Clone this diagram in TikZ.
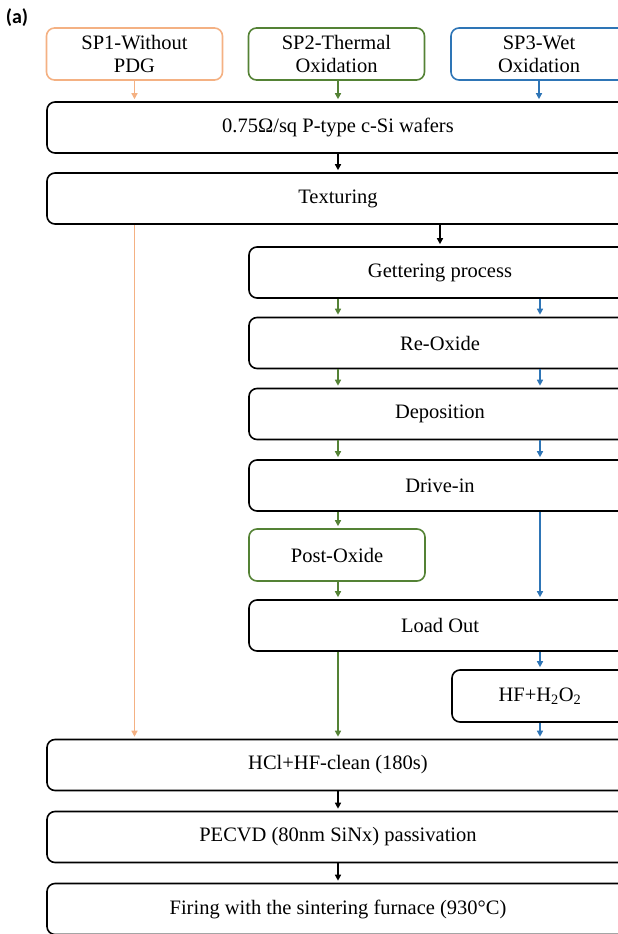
\documentclass[tikz,border=0pt]{standalone}
\usepackage{fontspec}
\setmainfont{Liberation Serif}
\newfontfamily\panelfont{Carlito}
\usetikzlibrary{arrows.meta, positioning}
\definecolor{sporange}{HTML}{F4B183}
\definecolor{spgreen}{HTML}{548235}
\definecolor{spblue}{HTML}{2E75B6}
\tikzset{stepbox/.style={draw, line width=1.6pt, rounded corners=8pt, align=center, inner sep=0pt, font=\fontsize{20.5}{23}\selectfont},
  widebox/.style={stepbox, minimum width=582pt, minimum height=51pt},
  halfbox/.style={stepbox, minimum width=382pt, minimum height=51pt},
  smallbox/.style={stepbox, minimum width=176pt, minimum height=52pt},
  flow/.style={-{Triangle[length=6pt, width=6pt]}, line width=1.4pt, shorten >=2pt}}

\begin{document}
\begin{tikzpicture}[x=1pt, y=-1pt]
  \path[use as bounding box, clip] (0,0) rectangle (618,934);
  \node[font=\panelfont\bfseries\fontsize{20}{24}\selectfont] (panel) at (17,18) {(a)};
  % starting points
  \node[smallbox, sporange] (sp1) at (134.5,54) {\textcolor{black}{SP1-Without}\\\textcolor{black}{PDG}};
  \node[smallbox, spgreen] (sp2) at (336.5,54) {\textcolor{black}{SP2-Thermal}\\\textcolor{black}{Oxidation}};
  \node[smallbox, spblue] (sp3) at (539,54) {\textcolor{black}{SP3-Wet}\\\textcolor{black}{Oxidation}};
  % common steps
  \node[widebox] (wafers) at (338,127.5) {0.75Ω/sq P-type c-Si wafers};
  \node[widebox] (texturing) at (338,198.5) {Texturing};
  % gettering branch
  \node[halfbox] (gettering) at (440,272.5) {Gettering process};
  \node[halfbox] (reoxide) at (440,343) {Re-Oxide};
  \node[halfbox] (deposition) at (440,414) {Deposition};
  \node[halfbox] (drivein) at (440,485.5) {Drive-in};
  \node[smallbox, spgreen] (postoxide) at (337,555) {\textcolor{black}{Post-Oxide}};
  \node[halfbox] (loadout) at (440,625.5) {Load Out};
  \node[smallbox] (hfclean) at (540,696) {HF+H\textsubscript{2}O\textsubscript{2}};
  % final steps
  \node[widebox] (hcl) at (338,765) {HCl+HF-clean (180s)};
  \node[widebox] (pecvd) at (338,837) {PECVD (80nm SiNx) passivation};
  \node[widebox] (firing) at (338,909) {Firing with the sintering furnace (930\textdegree C)};

  \draw[flow, sporange] (sp1.south) -- (sp1.south |- wafers.north);
  \draw[flow, spgreen] (sp2.south -| wafers) -- (wafers.north);
  \draw[flow, spblue] (sp3.south) -- (sp3.south |- wafers.north);
  \draw[flow] (wafers) ++(0,25.5) -- (texturing.north);
  \draw[flow] (texturing.south -| gettering) -- (gettering.north);
  \draw[flow, sporange] (texturing.south -| sp1) -- (hcl.north -| sp1);
  % two lanes through the gettering steps
  \foreach \from/\to in {gettering/reoxide, reoxide/deposition, deposition/drivein}{
    \draw[flow, spgreen] (\from.south -| wafers) -- (\to.north -| wafers);
    \draw[flow, spblue] (\from.south -| hfclean) -- (\to.north -| hfclean);
  }
  \draw[flow, spgreen] (drivein.south -| wafers) -- (postoxide.north -| wafers);
  \draw[flow, spgreen] (postoxide.south -| wafers) -- (loadout.north -| wafers);
  \draw[flow, spblue] (drivein.south -| hfclean) -- (loadout.north -| hfclean);
  \draw[flow, spgreen] (loadout.south -| wafers) -- (hcl.north -| wafers);
  \draw[flow, spblue] (loadout.south -| hfclean) -- (hfclean.north);
  \draw[flow, spblue] (hfclean.south) -- (hcl.north -| hfclean);
  \draw[flow] (hcl.south) -- (pecvd.north);
  \draw[flow] (pecvd.south) -- (firing.north);
\end{tikzpicture}
\end{document}
